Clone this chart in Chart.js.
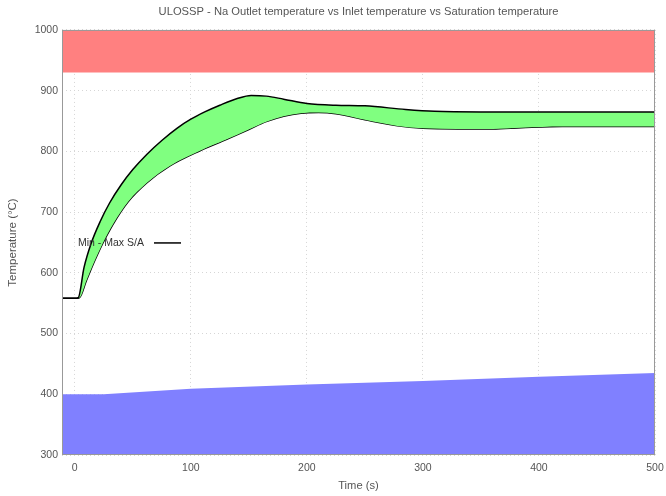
<!DOCTYPE html>
<html>
<head>
<meta charset="utf-8">
<script src="https://cdn.jsdelivr.net/npm/chart.js@4.4.0/dist/chart.umd.min.js"></script>
<style>
  html, body { margin: 0; padding: 0; background: #fff; }
  #wrap { width: 666px; height: 496px; }
</style>
</head>
<body>
<div id="wrap"><canvas id="tempChart"></canvas></div>
<script>
// time axis (s) and temperatures (°C)
var timeMax = [-11, 0, 3, 8, 14, 22, 30, 40, 50, 62, 75, 88, 100, 112, 125, 140, 152, 165, 180, 200, 225, 250, 285, 310, 350, 400, 450, 500];
var tempMax = [558, 558, 559, 609, 648, 685, 715, 745, 770, 795, 818, 838, 853, 865, 876, 887, 892, 891, 886, 879, 876, 875, 869, 866, 865, 865, 865, 865];

var timeMin = [-11, 0, 4, 10, 17, 24, 33, 46, 62, 82, 108, 130, 150, 165, 180, 195, 210, 225, 250, 278, 300, 330, 360, 385, 420, 460, 500];
var tempMin = [558, 558, 559, 587, 619, 648, 680, 717, 748, 776, 801, 819, 836, 849, 858, 863, 864, 862, 852, 842, 838, 837, 837, 839, 841, 841, 841];

// saturation (red, from top) and inlet (blue, from bottom) bands
var timeSat = [-11, 500];
var tempSat = [930, 930];
var timeInlet = [-11, 25, 100, 200, 300, 400, 500];
var tempInlet = [400, 400, 409, 416, 422, 429, 435];

var xTicks = [0, 100, 200, 300, 400, 500];
var yTicks = [300, 400, 500, 600, 700, 800, 900, 1000];

function pts(xs, ys) {
  return xs.map(function (x, i) { return { x: x, y: ys[i] }; });
}

var textColor = '#555';
var fontFam = '"Liberation Sans", Arial, sans-serif';

// legend sits inside the plot, gnuplot style: text then a line sample
var innerLegend = {
  id: 'innerLegend',
  afterDatasetsDraw: function (chart) {
    var ctx = chart.ctx, a = chart.chartArea;
    var ty = a.top + 213;
    ctx.save();
    ctx.font = '10.5px ' + fontFam;
    ctx.fillStyle = '#333';
    ctx.textBaseline = 'middle';
    ctx.textAlign = 'left';
    ctx.fillText('Min - Max S/A', a.left + 16, ty);
    ctx.strokeStyle = '#000';
    ctx.lineWidth = 1.5;
    ctx.beginPath();
    ctx.moveTo(a.left + 92, ty);
    ctx.lineTo(a.left + 119, ty);
    ctx.stroke();
    // frame
    ctx.strokeStyle = '#999';
    ctx.lineWidth = 1;
    ctx.strokeRect(a.left + 0.5, a.top + 0.5, a.right - a.left - 1, a.bottom - a.top - 1);
    ctx.restore();
  }
};

var ctx = document.getElementById('tempChart').getContext('2d');
var tempChart = new Chart(ctx, {
  type: 'line',
  data: {
    datasets: [
      {
        label: 'Saturation',
        data: pts(timeSat, tempSat),
        borderWidth: 0,
        pointRadius: 0,
        backgroundColor: '#ff8080',
        fill: 'end'
      },
      {
        label: 'Inlet',
        data: pts(timeInlet, tempInlet),
        borderWidth: 0,
        pointRadius: 0,
        backgroundColor: '#8080ff',
        fill: 'start'
      },
      {
        label: 'Max S/A',
        data: pts(timeMax, tempMax),
        borderColor: '#000',
        borderWidth: 1.5,
        pointRadius: 0,
        cubicInterpolationMode: 'monotone',
        backgroundColor: '#80ff80',
        fill: '+1'
      },
      {
        label: 'Min S/A',
        data: pts(timeMin, tempMin),
        borderColor: '#000',
        borderWidth: 1.5,
        pointRadius: 0,
        cubicInterpolationMode: 'monotone',
        fill: false
      }
    ]
  },
  options: {
    responsive: true,
    maintainAspectRatio: false,
    animation: false,
    layout: { padding: { left: 0, right: 11, top: 0, bottom: 0 } },
    plugins: {
      legend: { display: false },
      tooltip: { enabled: false },
      title: {
        display: true,
        fullSize: false,
        text: 'ULOSSP - Na Outlet temperature vs Inlet temperature vs Saturation temperature',
        color: textColor,
        font: { family: fontFam, size: 11.2, weight: 'normal' },
        padding: { top: 5, bottom: 11.5 }
      }
    },
    scales: {
      x: {
        type: 'linear',
        min: -11,
        max: 500,
        afterBuildTicks: function (s) {
          s.ticks = xTicks.map(function (v) { return { value: v }; });
        },
        afterFit: function (s) {
          s.height = 41;
          s.paddingRight = 0;
          s.paddingLeft = 0;
        },
        grid: { color: '#d6d6d6', drawTicks: false },
        border: { display: false, dash: [1, 3] },
        ticks: { color: textColor, padding: 7, maxRotation: 0, font: { family: fontFam, size: 10.5 } },
        title: {
          display: true,
          text: 'Time (s)',
          color: textColor,
          font: { family: fontFam, size: 11.2 },
          padding: { top: 0, bottom: 3 }
        }
      },
      y: {
        min: 300,
        max: 1000,
        afterBuildTicks: function (s) {
          s.ticks = yTicks.map(function (v) { return { value: v }; });
        },
        afterFit: function (s) { s.width = 62; },
        grid: { color: '#d6d6d6', drawTicks: false },
        border: { display: false, dash: [1, 3] },
        ticks: {
          color: textColor,
          padding: 4,
          font: { family: fontFam, size: 10.5 },
          callback: function (v) { return String(v); }
        },
        title: {
          display: true,
          text: 'Temperature (°C)',
          color: textColor,
          font: { family: fontFam, size: 11.5 },
          padding: { top: 6, bottom: 0 }
        }
      }
    }
  },
  plugins: [innerLegend]
});
</script>
</body>
</html>
